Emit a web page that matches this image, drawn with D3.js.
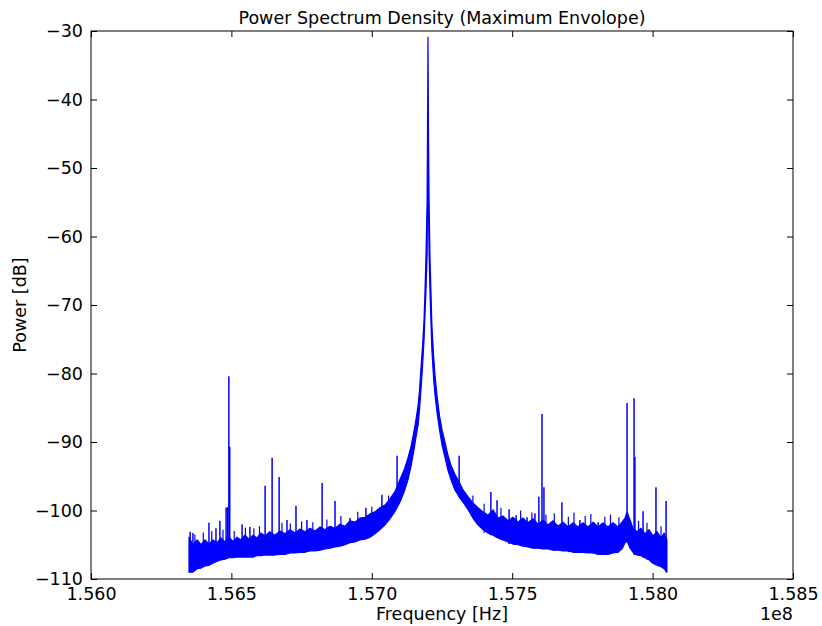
<!DOCTYPE html>
<html>
<head>
<meta charset="utf-8">
<script src="https://cdn.jsdelivr.net/npm/d3@7"></script>
<style>
  body { margin: 0; background: #fff; }
  svg text { font-family: "DejaVu Sans", sans-serif; fill: #000; }
</style>
</head>
<body>
<svg id="chart" width="822" height="626"></svg>
<script>
// frequencies in MHz (axis shows them in units of 1e8 Hz)
const bandFreq = [
  156.349,156.363,156.378,156.392,156.406,156.420,156.434,156.449,156.463,156.477,
  156.491,156.506,156.520,156.534,156.548,156.563,156.577,156.591,156.605,156.620,
  156.637,156.655,156.673,156.691,156.709,156.727,156.744,156.762,156.780,156.798,
  156.816,156.833,156.851,156.869,156.887,156.905,156.922,156.940,156.958,156.976,
  156.994,157.011,157.029,157.047,157.065,157.083,157.100,157.115,157.129,157.140,
  157.150,157.157,157.165,157.170,157.175,157.181,157.186,157.189,157.193,157.197,
  157.1984,157.2000,157.2018,157.204,157.207,157.211,157.214,157.220,157.225,157.232,
  157.241,157.250,157.261,157.271,157.282,157.296,157.311,157.325,157.343,157.360,
  157.378,157.396,157.414,157.432,157.449,157.467,157.485,157.503,157.521,157.538,
  157.556,157.574,157.592,157.610,157.628,157.645,157.663,157.681,157.699,157.717,
  157.734,157.752,157.770,157.788,157.806,157.823,157.841,157.859,157.877,157.891,
  157.902,157.909,157.920,157.930,157.944,157.959,157.973,157.987,158.001,158.016,
  158.030,158.041,158.051
];
// top of the noise band (dB)
const bandUpper = [
  -103.9,-105.0,-104.3,-105.0,-104.3,-104.9,-104.3,-104.7,-104.0,-104.6,
  -103.9,-104.5,-103.9,-104.3,-103.6,-104.2,-103.6,-104.0,-103.3,-103.7,
  -103.1,-103.6,-103.0,-103.4,-102.8,-103.3,-102.7,-103.1,-102.6,-103.0,
  -102.4,-102.8,-102.3,-102.6,-102.0,-102.3,-101.5,-101.7,-101.1,-101.0,
  -100.5,-100.2,-99.6,-99.2,-98.3,-97.2,-95.5,-94.1,-92.3,-90.6,
  -88.5,-86.8,-84.6,-82.4,-79.2,-75.8,-72.2,-68.5,-62.7,-54.7,
  -44.5,-30.9,-44.5,-54.7,-62.7,-68.5,-72.9,-77.3,-80.2,-83.1,
  -86.1,-88.2,-90.1,-91.9,-93.4,-94.7,-95.8,-97.0,-98.0,-98.9,
  -99.6,-100.2,-100.7,-99.9,-101.1,-100.8,-101.5,-101.0,-101.7,-101.1,
  -101.8,-101.2,-102.0,-101.4,-102.1,-101.5,-102.3,-101.7,-102.4,-101.8,
  -102.4,-101.8,-102.4,-101.7,-102.4,-101.8,-102.4,-101.8,-102.4,-101.7,
  -101.1,-100.2,-101.4,-102.6,-103.1,-102.6,-103.4,-102.8,-103.7,-103.1,
  -104.0,-103.3,-104.3
];
// bottom of the noise band (dB)
const bandLower = [
  -109.0,-109.0,-108.5,-108.4,-108.1,-108.0,-107.7,-107.4,-107.2,-107.1,
  -106.9,-106.9,-106.8,-106.8,-106.8,-106.8,-106.8,-106.6,-106.6,-106.5,
  -106.5,-106.5,-106.4,-106.4,-106.2,-106.2,-106.1,-106.1,-105.9,-105.9,
  -105.8,-105.6,-105.5,-105.3,-105.2,-105.0,-104.7,-104.6,-104.3,-104.2,
  -103.9,-103.4,-102.8,-102.1,-101.2,-100.1,-98.8,-97.3,-95.5,-93.5,
  -91.2,-89.4,-87.5,-85.3,-82.4,-78.8,-75.1,-71.9,-67.8,-62.7,
  -54.7,-34.2,-54.7,-62.7,-67.8,-72.9,-76.6,-80.7,-83.1,-85.6,
  -88.2,-90.4,-92.3,-94.1,-95.5,-97.0,-98.0,-98.8,-99.9,-101.1,
  -102.1,-102.8,-103.3,-103.6,-104.0,-104.3,-104.6,-104.9,-105.0,-105.2,
  -105.3,-105.5,-105.5,-105.6,-105.6,-105.8,-105.8,-105.9,-105.9,-106.1,
  -106.1,-106.1,-106.2,-106.2,-106.4,-106.4,-106.4,-106.2,-106.1,-105.6,
  -104.7,-104.5,-105.5,-106.1,-106.5,-106.6,-106.9,-107.2,-107.7,-108.0,
  -108.2,-108.5,-109.0
];
// narrow spurs sticking out of the band
const spikeFreq = [
  156.353,156.363,156.420,156.445,156.459,156.481,156.486,156.491,156.494,156.538,
  156.566,156.620,156.645,156.670,156.698,156.730,156.769,156.823,156.869,156.922,
  156.979,157.036,157.090,157.311,157.424,157.446,157.489,157.506,157.514,157.553,
  157.581,157.595,157.606,157.613,157.677,157.741,157.806,157.909,157.934,157.937,
  157.966,158.012,158.048
];
const spikeTop = [
  -103.1,-103.3,-101.8,-102.6,-101.5,-99.6,-99.5,-80.4,-90.7,-102.0,
  -102.4,-96.4,-92.3,-95.1,-101.4,-99.3,-101.4,-96.0,-98.6,-101.1,
  -99.6,-97.7,-92.0,-92.0,-97.3,-98.5,-99.8,-101.8,-100.7,-101.0,
  -100.4,-98.0,-85.9,-96.6,-98.8,-101.4,-101.7,-84.3,-83.6,-92.2,
  -100.1,-96.6,-98.6
];
// short hairs on top of the band
const hairFreq = [
  156.37,156.40,156.43,156.47,156.51,156.55,156.58,156.60,156.68,156.71,
  156.75,156.79,156.84,156.89,156.95,157.00,157.06,157.36,157.40,157.46,
  157.53,157.57,157.62,157.65,157.70,157.72,157.76,157.78,157.83,157.85,
  157.88,157.95,157.98,158.03
];
const hairTop = [
  -103.5,-103.2,-103.0,-102.8,-103.0,-102.5,-102.6,-102.3,-101.8,-101.9,
  -101.6,-101.7,-101.3,-100.8,-100.2,-99.4,-97.8,-97.8,-99.0,-99.6,
  -100.0,-100.3,-100.6,-100.4,-100.9,-100.3,-100.8,-100.5,-100.9,-100.6,
  -101.0,-101.5,-101.8,-102.3
];
const xTicks = [156.0, 156.5, 157.0, 157.5, 158.0, 158.5];
const yTicks = [-30, -40, -50, -60, -70, -80, -90, -100, -110];

const w = 822, h = 626;
const margin = {left: 91, right: 29, top: 31, bottom: 47};
const fs = "17.5px";

const svg = d3.select("#chart");

const x = d3.scaleLinear().domain([156.0, 158.5]).range([margin.left, w - margin.right]);
const y = d3.scaleLinear().domain([-110, -30]).range([h - margin.bottom, margin.top]);

svg.append("clipPath").attr("id", "clip")
  .append("rect")
  .attr("x", margin.left).attr("y", margin.top)
  .attr("width", w - margin.left - margin.right)
  .attr("height", h - margin.top - margin.bottom);

const plot = svg.append("g").attr("clip-path", "url(#clip)");

//THE BAND
const idx = d3.range(bandFreq.length);
const area = d3.area()
  .x(i => x(bandFreq[i]))
  .y0(i => y(bandLower[i]))
  .y1(i => y(bandUpper[i]));

plot.append("path")
  .attr("d", area(idx))
  .attr("fill", "#0000ff")
  .attr("stroke", "#0000ff")
  .attr("stroke-width", 1.2)
  .attr("stroke-linejoin", "round");

//THE SPIKES - each one drops down into the band
function drawSpikes(freqs, tops, cls, width) {
  plot.selectAll("line." + cls)
    .data(freqs.map((f, i) => ({f, top: tops[i]})))
    .enter()
    .append("line")
    .attr("class", cls)
    .attr("x1", d => x(d.f))
    .attr("x2", d => x(d.f))
    .attr("y1", d => y(d.top))
    .attr("y2", d => {
      const j = Math.min(d3.bisectLeft(bandFreq, d.f), bandFreq.length - 1);
      return y(bandLower[j]);
    })
    .attr("stroke", "#0000ff")
    .attr("stroke-width", width);
}
drawSpikes(spikeFreq, spikeTop, "spike", 1.5);
drawSpikes(hairFreq, hairTop, "hair", 1.2);

//THE AXES (ticks point inwards, on all four sides)
const minus = d => d < 0 ? "\u2212" + Math.abs(d) : String(d);

svg.append("g")
  .attr("transform", `translate(0, ${h - margin.bottom})`)
  .call(d3.axisBottom(x).tickValues(xTicks).tickSizeInner(-6).tickSizeOuter(0)
    .tickPadding(9).tickFormat(d => (d / 100).toFixed(3)));
svg.append("g")
  .attr("transform", `translate(0, ${margin.top})`)
  .call(d3.axisTop(x).tickValues(xTicks).tickSizeInner(-6).tickSizeOuter(0).tickFormat(""));
svg.append("g")
  .attr("transform", `translate(${margin.left}, 0)`)
  .call(d3.axisLeft(y).tickValues(yTicks).tickSizeInner(-6).tickSizeOuter(0)
    .tickPadding(8).tickFormat(minus));
svg.append("g")
  .attr("transform", `translate(${w - margin.right}, 0)`)
  .call(d3.axisRight(y).tickValues(yTicks).tickSizeInner(-6).tickSizeOuter(0).tickFormat(""));

svg.selectAll(".domain").remove();
svg.selectAll(".tick line").attr("stroke", "#000");
svg.selectAll(".tick text")
  .style("font-size", fs)
  .style("font-family", "DejaVu Sans, sans-serif");

//THE FRAME
svg.append("rect")
  .attr("x", margin.left).attr("y", margin.top)
  .attr("width", w - margin.left - margin.right)
  .attr("height", h - margin.top - margin.bottom)
  .attr("fill", "none")
  .attr("stroke", "#000")
  .attr("stroke-width", 1);

//THE TEXTS
svg.append("text")
  .attr("x", (margin.left + w - margin.right) / 2)
  .attr("y", 24)
  .attr("text-anchor", "middle")
  .style("font-size", fs)
  .text("Power Spectrum Density (Maximum Envolope)");

svg.append("text")
  .attr("x", (margin.left + w - margin.right) / 2)
  .attr("y", 620)
  .attr("text-anchor", "middle")
  .style("font-size", fs)
  .text("Frequency [Hz]");

svg.append("text")
  .attr("x", w - margin.right)
  .attr("y", 620)
  .attr("text-anchor", "end")
  .style("font-size", fs)
  .text("1e8");

svg.append("text")
  .attr("transform", `translate(26, ${(margin.top + h - margin.bottom) / 2}) rotate(-90)`)
  .attr("text-anchor", "middle")
  .style("font-size", fs)
  .text("Power [dB]");
</script>
</body>
</html>
